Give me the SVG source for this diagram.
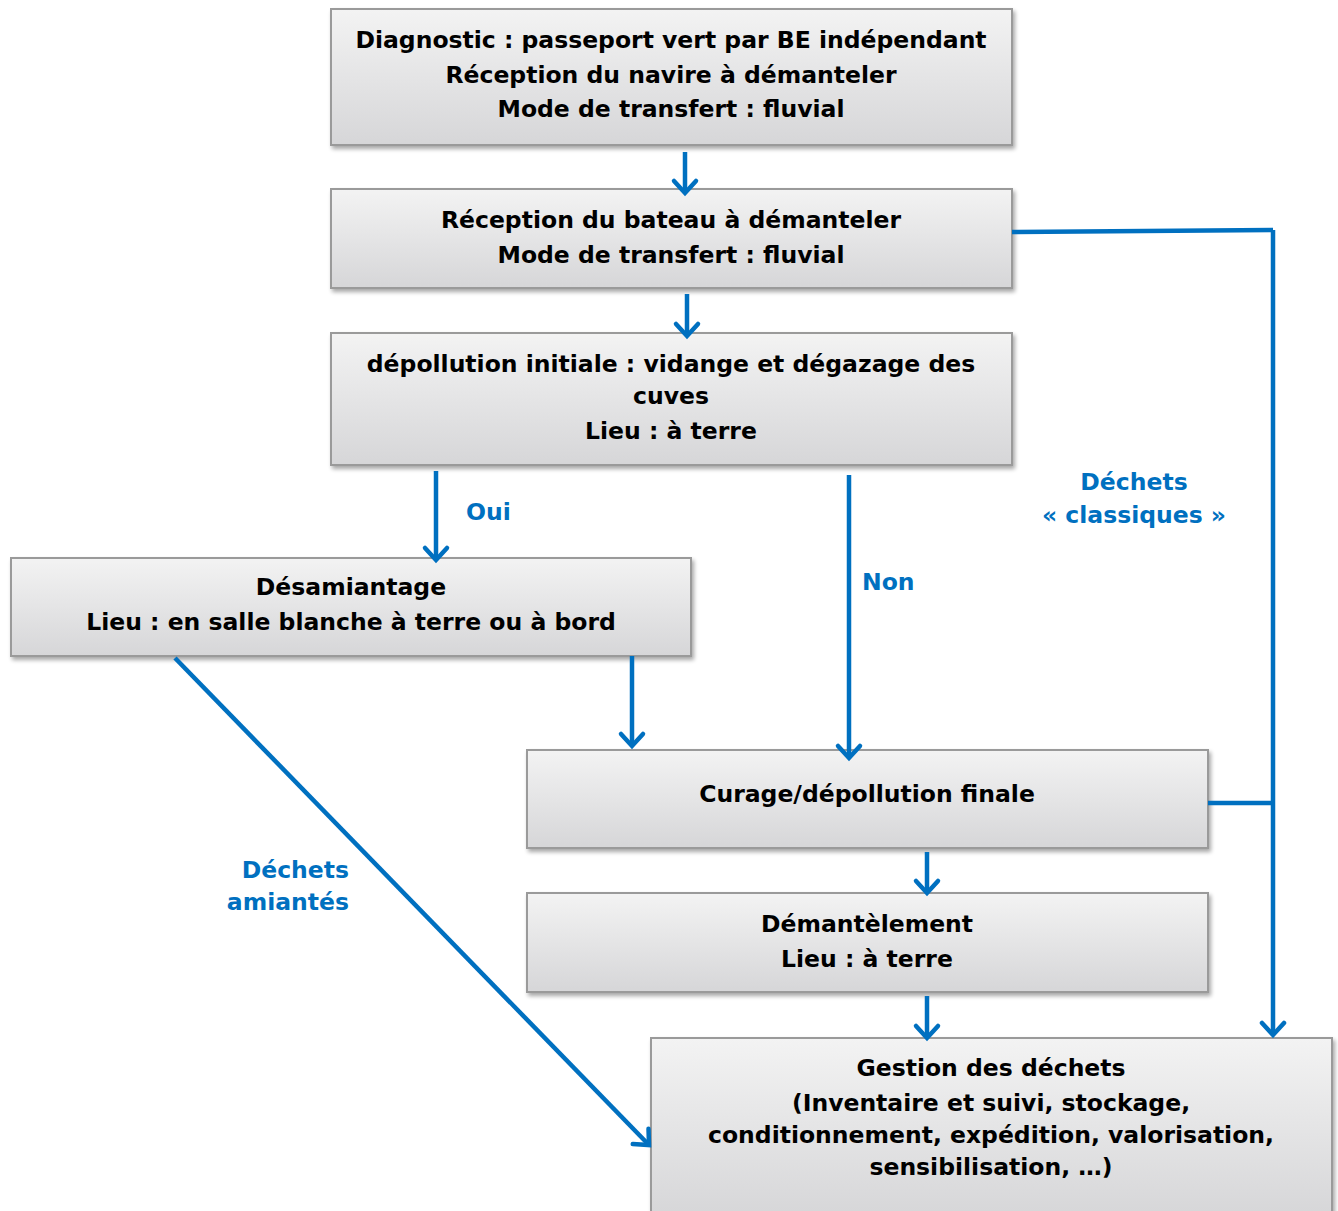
<svg xmlns="http://www.w3.org/2000/svg" width="1338" height="1211" viewBox="0 0 1338 1211">
<defs>
<linearGradient id="g" x1="0" y1="0" x2="0" y2="1">
<stop offset="0" stop-color="#f3f3f3"/>
<stop offset="1" stop-color="#d6d6d8"/>
</linearGradient>
<filter id="sh" x="-5%" y="-5%" width="110%" height="120%">
<feGaussianBlur in="SourceAlpha" stdDeviation="2"/>
<feOffset dx="2" dy="3"/>
<feComponentTransfer><feFuncA type="linear" slope="0.35"/></feComponentTransfer>
<feMerge><feMergeNode/><feMergeNode in="SourceGraphic"/></feMerge>
</filter>
<marker id="ah" markerUnits="userSpaceOnUse" markerWidth="30" markerHeight="30" viewBox="-20 -15 30 30" refX="-1" refY="0" orient="auto">
<path d="M-13,-11 L-1,0 L-13,11" fill="none" stroke="#0070c0" stroke-width="4.5" stroke-linecap="round" stroke-linejoin="miter"/>
</marker>
</defs>
<style>
.box{fill:url(#g);stroke:#9a9a9a;stroke-width:2;filter:url(#sh)}
.t{font-family:"DejaVu Sans",Verdana,sans-serif;font-weight:bold;font-size:23.5px;fill:#000;text-anchor:middle}
.b{font-family:"DejaVu Sans",Verdana,sans-serif;font-weight:bold;font-size:23.5px;fill:#0070c0}
.c{fill:none;stroke:#0070c0;stroke-width:4.5}
.a{marker-end:url(#ah)}
</style>
<g id="n1">
<rect class="box" x="331" y="9" width="681" height="136"/>
<text class="t" x="671" y="48">Diagnostic : passeport vert par BE indépendant</text>
<text class="t" x="671" y="83">Réception du navire à démanteler</text>
<text class="t" x="671" y="117">Mode de transfert : fluvial</text>
</g>
<g id="n2">
<rect class="box" x="331" y="189" width="681" height="99"/>
<text class="t" x="671" y="228">Réception du bateau à démanteler</text>
<text class="t" x="671" y="263">Mode de transfert : fluvial</text>
</g>
<g id="n3">
<rect class="box" x="331" y="333" width="681" height="132"/>
<text class="t" x="671" y="372">dépollution initiale : vidange et dégazage des</text>
<text class="t" x="671" y="404">cuves</text>
<text class="t" x="671" y="439">Lieu : à terre</text>
</g>
<g id="n4">
<rect class="box" x="11" y="558" width="680" height="98"/>
<text class="t" x="351" y="595">Désamiantage</text>
<text class="t" x="351" y="630">Lieu : en salle blanche à terre ou à bord</text>
</g>
<g id="n5">
<rect class="box" x="527" y="750" width="681" height="98"/>
<text class="t" x="867" y="802">Curage/dépollution finale</text>
</g>
<g id="n6">
<rect class="box" x="527" y="893" width="681" height="99"/>
<text class="t" x="867" y="932">Démantèlement</text>
<text class="t" x="867" y="967">Lieu : à terre</text>
</g>
<g id="n7">
<rect class="box" x="651" y="1038" width="681" height="180"/>
<text class="t" x="991" y="1076">Gestion des déchets</text>
<text class="t" x="991" y="1111">(Inventaire et suivi, stockage,</text>
<text class="t" x="991" y="1143">conditionnement, expédition, valorisation,</text>
<text class="t" x="991" y="1175">sensibilisation, …)</text>
</g>
<g id="connectors">
<line class="c a" x1="685" y1="152" x2="685" y2="193"/>
<line class="c a" x1="687" y1="294" x2="687" y2="336"/>
<line class="c a" x1="436" y1="471" x2="436" y2="560"/>
<line class="c a" x1="849" y1="475" x2="849" y2="758"/>
<line class="c a" x1="632" y1="656" x2="632" y2="746"/>
<line class="c a" x1="927" y1="852" x2="927" y2="893"/>
<line class="c a" x1="927" y1="996" x2="927" y2="1038"/>
<line class="c a" x1="175" y1="658" x2="649" y2="1145"/>
<polyline class="c" points="1012,232 1273,230"/>
<line class="c a" x1="1273" y1="230" x2="1273" y2="1035"/>
<line class="c" x1="1208" y1="803" x2="1273" y2="803"/>
</g>
<g id="labels">
<text class="b" x="466" y="520">Oui</text>
<text class="b" x="862" y="590">Non</text>
<text class="b" x="1134" y="490" text-anchor="middle">Déchets</text>
<text class="b" x="1134" y="523" text-anchor="middle">« classiques »</text>
<text class="b" x="349" y="878" text-anchor="end">Déchets</text>
<text class="b" x="349" y="910" text-anchor="end">amiantés</text>
</g>
</svg>
